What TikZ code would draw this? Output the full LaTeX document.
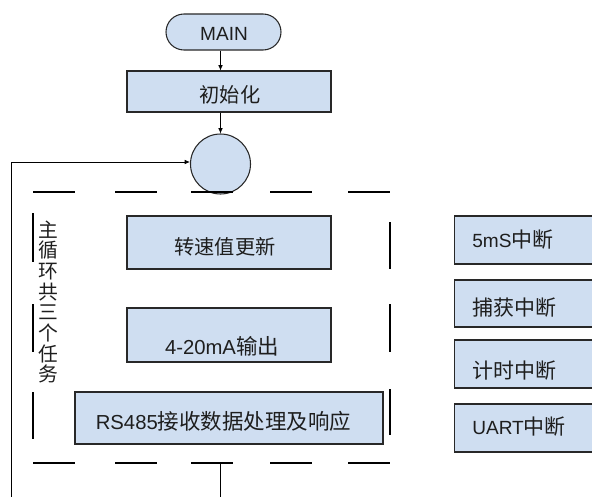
\documentclass[tikz,border=0pt]{standalone}
\usepackage{fontspec}
\setmainfont{Liberation Sans}
\newfontfamily\cjk[Scale=1.06]{Noto Sans CJK SC}
\newfontfamily\cjkw[Scale=1.1]{Noto Sans CJK SC}
\usetikzlibrary{shapes.misc,arrows.meta,calc}
\definecolor{boxfill}{RGB}{207,222,241}
\definecolor{edge}{RGB}{40,40,40}
\definecolor{txt}{RGB}{30,30,30}
\tikzset{
  box/.style={draw=edge, fill=boxfill, line width=0.8pt, inner sep=0pt},
  lbl/.style={inner sep=0pt, text=txt, font=\fontsize{14.3pt}{16pt}\selectfont},
  biglbl/.style={lbl, font=\fontsize{15.2pt}{17pt}\selectfont},
  arr/.style={draw=black, line width=0.6pt, -{Latex[length=4pt,width=3.5pt]}},
  ln/.style={draw=black, line width=0.6pt},
  dsh/.style={draw=black, line width=0.8pt},
}
\begin{document}
\begin{tikzpicture}[x=0.75pt,y=-0.75pt]
\useasboundingbox (0,0) rectangle (592,496);
\clip (0,0) rectangle (592,496);
% top
\node[box, rounded rectangle, minimum width=86.25pt, minimum height=27pt] (main) at (223.5,32) {};
\node[lbl] (mainT) at (224,34) {MAIN};
\node[box, minimum width=153pt, minimum height=30.75pt] (init) at (229,91.5) {};
\node[lbl] (initT) at (230,94.5) {\cjk 初始化};
\node[box, circle, minimum size=45pt] (circ) at (220.5,164) {};
\draw[arr] (main.south -| circ.north) -- (init.north -| circ.north);
\draw[arr] (init.south -| circ.north) -- (circ.north);
% loop-back line
\coordinate (loopstart) at (11.5,500);
\coordinate (loopcorner) at (11.5,162);
\draw[arr] (loopstart) -- (loopcorner) -- (circ.west |- loopcorner);
% tasks
\node[box, minimum width=153pt, minimum height=39.75pt] (t1) at (229,242.5) {};
\node[lbl] (t1T) at (225,247) {\cjk 转速值更新};
\node[box, minimum width=153pt, minimum height=40.5pt] (t2) at (229,335) {};
\node[biglbl] (t2T) at (222,346) {4-20mA{\cjk 输出}};
\node[box, minimum width=231pt, minimum height=39pt] (t3) at (229,418) {};
\node[biglbl] (t3T) at (223.5,421) {RS485{\cjk 接收数据处理及响应}};
% vertical label
\node[lbl, align=center, font=\fontsize{14pt}{15.5pt}\selectfont\cjk] (vlabel) at (48,302)
  {主\\循\\环\\共\\三\\个\\任\\务};
% dashed frame drawn as segments
\foreach \a/\b in {33/75,115/157,191/233,270/312,348/390}{
  \draw[dsh] (\a,192) -- (\b,192);
  \draw[dsh] (\a,463) -- (\b,463);
}
\foreach \a/\b in {213/262,304/352,392/439}{\draw[dsh] (33,\a) -- (33,\b);}
\foreach \a/\b in {222/269,304/352,389/435}{\draw[dsh] (390,\a) -- (390,\b);}
% exit line
\coordinate (exitTop) at (220.5,463);
\coordinate (exitEnd) at (220.5,500);
\draw[ln] (exitTop) -- (exitEnd);
% interrupts
\node[box, minimum width=112.5pt, minimum height=36pt, anchor=west] (i1) at (454,240) {};
\node[box, minimum width=112.5pt, minimum height=35.25pt, anchor=west] (i2) at (454,303.5) {};
\node[box, minimum width=112.5pt, minimum height=36pt, anchor=west] (i3) at (454,364) {};
\node[box, minimum width=112.5pt, minimum height=36pt, anchor=west] (i4) at (454,428) {};
\node[lbl, anchor=west] (l1) at (472,240) {5mS{\cjkw 中断}};
\node[lbl, anchor=west] (l2) at (472,307.5) {\cjkw 捕获中断};
\node[lbl, anchor=west] (l3) at (472,370.5) {\cjkw 计时中断};
\node[lbl, anchor=west] (l4) at (472,427) {UART{\cjkw 中断}};
\end{tikzpicture}
\end{document}
